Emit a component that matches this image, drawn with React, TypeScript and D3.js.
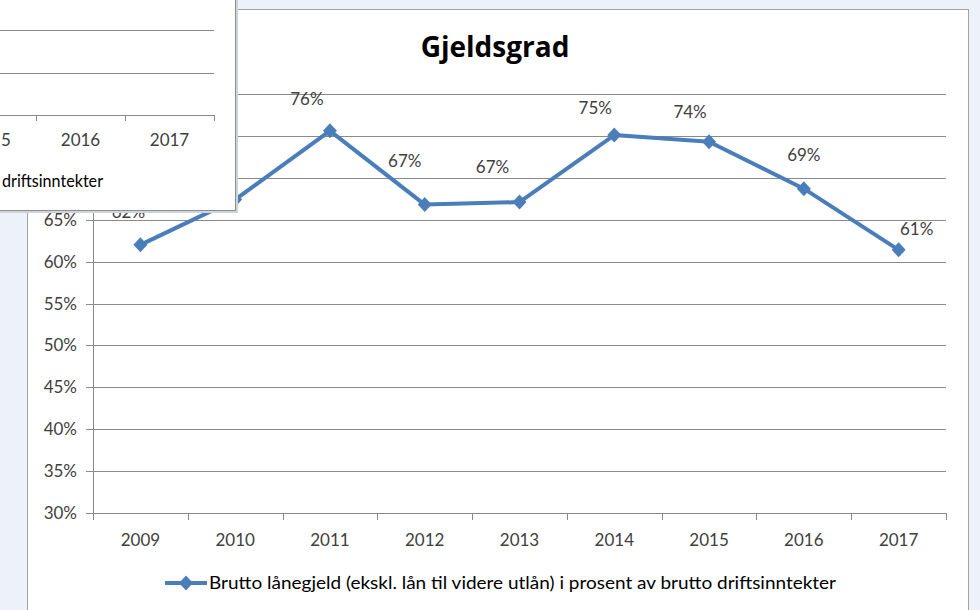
import React from 'react';
import * as d3 from 'd3';

const years = ['2009', '2010', '2011', '2012', '2013', '2014', '2015', '2016', '2017'];
const values = [62.0, 67.4, 75.6, 66.8, 67.1, 75.1, 74.3, 68.7, 61.4];
const dataLabels = ['62%', '67%', '76%', '67%', '67%', '75%', '74%', '69%', '61%'];
const yTicks = [30, 35, 40, 45, 50, 55, 60, 65, 70, 75, 80];
const insetTickLabels = ['5', '2016', '2017'];
const insetYears = ['2015', '2016', '2017'];
const insetTicks = [30, 35, 40];
const title = 'Gjeldsgrad';
const legendText = 'Brutto lånegjeld (ekskl. lån til videre utlån) i prosent av brutto driftsinntekter';
const insetLegendText = 'driftsinntekter';

// label placement offsets (layout, relative to each point)
const labelDx = [-12, -20, -23, -20, -27, -19, -19, 0, 18];
const labelDy = [-33, -34, -32, -44, -35, -27, -30, -34, -21];

const FONT = 'Lato, "Open Sans", sans-serif';
const BLUE = '#4a7ebb';
const GRID = '#8a8a8a';
const TXT = '#404040';

// overlapping window region
const WIN_W = 235;
const WIN_H = 210;
const hidden = (px: number, py: number) => px < WIN_W && py < WIN_H - 8;

const diamond = (cx: number, cy: number, w = 7, h = 7.5) =>
  `M${cx},${cy - h}L${cx + w},${cy}L${cx},${cy + h}L${cx - w},${cy}Z`;

export default function App() {
  const x = d3.scaleBand<string>().domain(years).range([93, 946]);
  const y = d3.scaleLinear().domain([30, 80]).range([513, 94]);
  const cxOf = (i: number) => (x(years[i]) as number) + x.bandwidth() / 2;
  const line = d3
    .line<number>()
    .x((_, i) => cxOf(i))
    .y((d) => y(d));

  const xi = d3.scaleBand<string>().domain(insetYears).range([-53, 214]);
  const yi = d3.scaleLinear().domain([30, 40]).range([115, 30]);

  const bounds = years.map((yr) => x(yr) as number).concat([946]);
  const ibounds = insetYears.map((yr) => xi(yr) as number).concat([214]);

  return (
    <svg width={980} height={610} style={{ position: 'absolute', left: 0, top: 0 }} fontFamily={FONT}>
      <rect x={0} y={0} width={980} height={610} fill="#edf1f9" />
      {/* main chart frame */}
      <rect x={27.5} y={9.5} width={941} height={700} fill="#ffffff" stroke="#a3a3a3" />
      <text x={495} y={57} textAnchor="middle" fontSize={28} fontWeight="bold" fill="#000" fontFamily='"Open Sans", sans-serif'>
        {title}
      </text>
      {/* grid */}
      {yTicks.map((t) => (
        <line key={t} x1={86} x2={946} y1={Math.round(y(t)) + 0.5} y2={Math.round(y(t)) + 0.5} stroke={GRID} />
      ))}
      {yTicks
        .filter((t) => !hidden(60, y(t)))
        .map((t) => (
          <text key={t} x={77} y={y(t) + 6} textAnchor="end" fontSize={17} fill={TXT}>
            {t}%
          </text>
        ))}
      <line x1={93.5} x2={93.5} y1={y(80)} y2={y(30)} stroke={GRID} />
      {bounds.map((b, i) => (
        <line key={i} x1={Math.round(b) + 0.5} x2={Math.round(b) + 0.5} y1={y(30)} y2={y(30) + 7} stroke={GRID} />
      ))}
      {years.map((yr, i) => (
        <text key={yr} x={cxOf(i)} y={546} textAnchor="middle" fontSize={17} fill={TXT}>
          {yr}
        </text>
      ))}
      {/* series */}
      <path d={line(values) as string} fill="none" stroke={BLUE} strokeWidth={4} strokeLinejoin="round" />
      {values.map((v, i) => (
        <path key={i} d={diamond(cxOf(i), y(v))} fill={BLUE} />
      ))}
      {values.map((v, i) => {
        const lx = cxOf(i) + labelDx[i];
        const ly = y(v) + labelDy[i];
        if (hidden(lx, ly)) return null;
        return (
          <text key={i} x={lx} y={ly + 6} textAnchor="middle" fontSize={17} fill={TXT}>
            {dataLabels[i]}
          </text>
        );
      })}
      {/* legend */}
      <line x1={165} x2={207} y1={583} y2={583} stroke={BLUE} strokeWidth={4} />
      <path d={diamond(186, 583)} fill={BLUE} />
      <text x={209} y={589} fontSize={17} fill="#000" textLength={627} lengthAdjust="spacingAndGlyphs">
        {legendText}
      </text>

      {/* overlapping window */}
      <rect x={0} y={0} width={WIN_W + 3} height={WIN_H + 3} fill="#cfd3da" />
      <rect x={-1} y={-1} width={WIN_W + 1.5} height={WIN_H + 1.5} fill="#ffffff" stroke="#8e8e8e" />
      <g>
        {insetTicks.map((t) => (
          <line key={t} x1={0} x2={214} y1={Math.round(yi(t)) + 0.5} y2={Math.round(yi(t)) + 0.5} stroke={GRID} />
        ))}
        {ibounds.map((b, i) => (
          <line key={i} x1={Math.round(b) + 0.5} x2={Math.round(b) + 0.5} y1={yi(30)} y2={yi(30) + 6} stroke={GRID} />
        ))}
        {insetYears.map((yr, i) =>
          i === 0 ? (
            <text key={yr} x={1} y={146} fontSize={17} fill={TXT}>
              {insetTickLabels[i]}
            </text>
          ) : (
            <text key={yr} x={(xi(yr) as number) + xi.bandwidth() / 2} y={146} textAnchor="middle" fontSize={17} fill={TXT}>
              {insetTickLabels[i]}
            </text>
          )
        )}
        <text x={2} y={187} fontSize={17} fill="#000" textLength={101} lengthAdjust="spacingAndGlyphs">
          {insetLegendText}
        </text>
      </g>
    </svg>
  );
}
